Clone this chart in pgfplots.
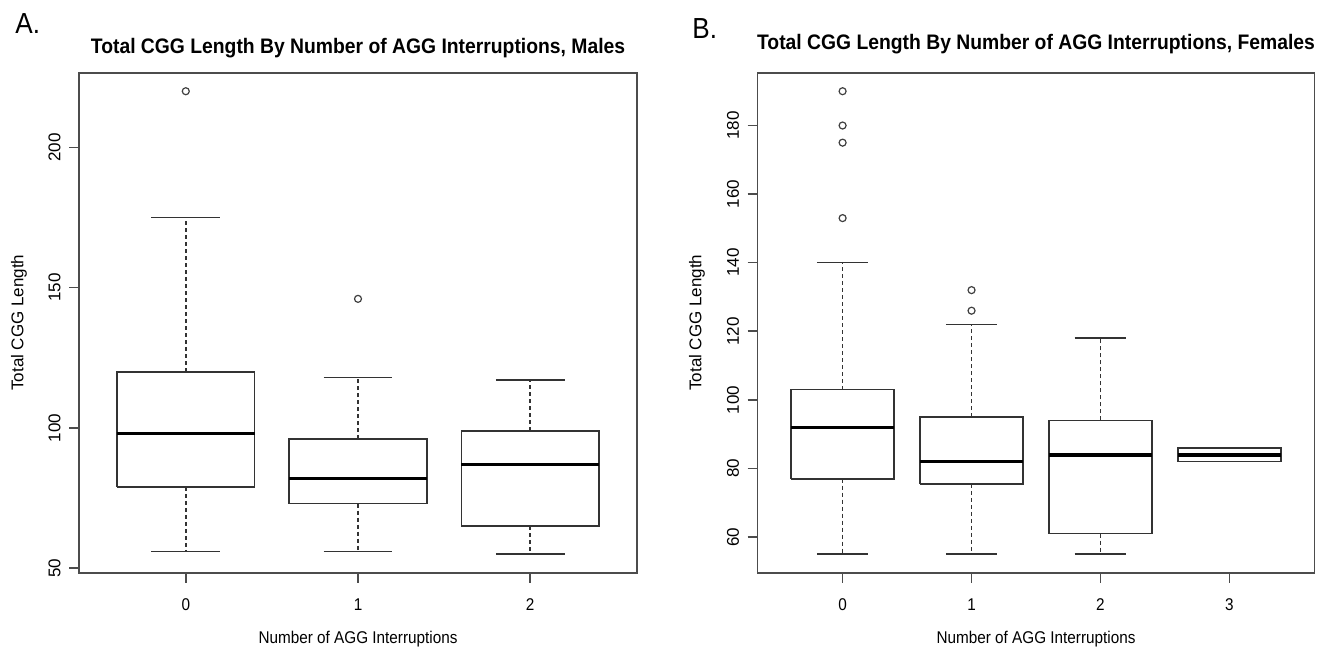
\documentclass[border=0pt]{standalone}
\usepackage{fontspec}
\setmainfont{Liberation Sans}[FakeStretch=0.9]
\newfontfamily\rotfont{Liberation Sans}
\newfontfamily\titlefont{Liberation Sans}[FakeStretch=0.92]
\usepackage{pgfplots}
\pgfplotsset{compat=1.18}
\pgfplotsset{
  myax/.style={
    scale only axis, anchor=south west, height=250pt, clip=false,
    axis line style={draw=black!70, line width=0.9pt},
    tick style={black!70, line width=0.8pt},
    tick align=outside, tick pos=left, major tick length=5pt,
    /pgf/number format/assume math mode=true,
    xticklabel style={font=\fontsize{8.5}{10}\selectfont, anchor=north, inner sep=0pt},
    yticklabel style={font=\rotfont\fontsize{8.5}{10}\selectfont, rotate=90, anchor=south, inner sep=0pt},
    xticklabel shift=8pt, yticklabel shift=4pt,
  },
  tk/.style={draw=black!70, line width=0.8pt, mark=none, forget plot},
  bline/.style={draw=black!80, line width=0.8pt, mark=none},
  wsk/.style={draw=black!80, line width=0.8pt, mark=none, dash pattern=on 2pt off 1.5pt},
  med/.style={draw=black, line width=1.8pt, mark=none},
  outl/.style={only marks, mark=o, mark size=1.75pt, mark options={solid, line width=0.6pt, draw=black!75}},
}
\begin{document}
\begin{tikzpicture}
\path (0,0) rectangle (663.5pt,327.5pt);
% ---------- Panel A ----------
\begin{axis}[myax, at={(39.5pt,41.15pt)}, width=279pt,
  xmin=0.38, xmax=3.62, ymin=48.4, ymax=226.6,
  xtick={1,2,3}, xticklabels={0,1,2},
  ytick={50,100,150,200}]
% tick marks (outside)
\addplot[tk] coordinates {(1,48.4) (1,44.84)};
\addplot[tk] coordinates {(2,48.4) (2,44.84)};
\addplot[tk] coordinates {(3,48.4) (3,44.84)};
\addplot[tk] coordinates {(0.38,50) (0.322,50)};
\addplot[tk] coordinates {(0.38,100) (0.322,100)};
\addplot[tk] coordinates {(0.38,150) (0.322,150)};
\addplot[tk] coordinates {(0.38,200) (0.322,200)};
% group 0
\addplot[wsk] coordinates {(1,120) (1,175)};
\addplot[wsk] coordinates {(1,79) (1,56)};
\addplot[bline] coordinates {(0.6,79) (1.4,79) (1.4,120) (0.6,120) (0.6,79)};
\addplot[med] coordinates {(0.6,98) (1.4,98)};
\addplot[bline] coordinates {(0.8,175) (1.2,175)};
\addplot[bline] coordinates {(0.8,56) (1.2,56)};
\addplot[outl] coordinates {(1,220)};
% group 1
\addplot[wsk] coordinates {(2,96) (2,118)};
\addplot[wsk] coordinates {(2,73) (2,56)};
\addplot[bline] coordinates {(1.6,73) (2.4,73) (2.4,96) (1.6,96) (1.6,73)};
\addplot[med] coordinates {(1.6,82) (2.4,82)};
\addplot[bline] coordinates {(1.8,118) (2.2,118)};
\addplot[bline] coordinates {(1.8,56) (2.2,56)};
\addplot[outl] coordinates {(2,146)};
% group 2
\addplot[wsk] coordinates {(3,99) (3,117)};
\addplot[wsk] coordinates {(3,65) (3,55)};
\addplot[bline] coordinates {(2.6,65) (3.4,65) (3.4,99) (2.6,99) (2.6,65)};
\addplot[med] coordinates {(2.6,87) (3.4,87)};
\addplot[bline] coordinates {(2.8,117) (3.2,117)};
\addplot[bline] coordinates {(2.8,55) (3.2,55)};
\end{axis}
% ---------- Panel B ----------
\begin{axis}[myax, at={(378.75pt,41.15pt)}, width=278.5pt,
  xmin=0.34, xmax=4.66, ymin=49.6, ymax=195.4,
  xtick={1,2,3,4}, xticklabels={0,1,2,3},
  ytick={60,80,100,120,140,160,180}]
% tick marks (outside)
\addplot[tk] coordinates {(1,49.6) (1,46.68)};
\addplot[tk] coordinates {(2,49.6) (2,46.68)};
\addplot[tk] coordinates {(3,49.6) (3,46.68)};
\addplot[tk] coordinates {(4,49.6) (4,46.68)};
\addplot[tk] coordinates {(0.34,60) (0.2624,60)};
\addplot[tk] coordinates {(0.34,80) (0.2624,80)};
\addplot[tk] coordinates {(0.34,100) (0.2624,100)};
\addplot[tk] coordinates {(0.34,120) (0.2624,120)};
\addplot[tk] coordinates {(0.34,140) (0.2624,140)};
\addplot[tk] coordinates {(0.34,160) (0.2624,160)};
\addplot[tk] coordinates {(0.34,180) (0.2624,180)};
% group 0
\addplot[wsk] coordinates {(1,103) (1,140)};
\addplot[wsk] coordinates {(1,77) (1,55)};
\addplot[bline] coordinates {(0.6,77) (1.4,77) (1.4,103) (0.6,103) (0.6,77)};
\addplot[med] coordinates {(0.6,92) (1.4,92)};
\addplot[bline] coordinates {(0.8,140) (1.2,140)};
\addplot[bline] coordinates {(0.8,55) (1.2,55)};
\addplot[outl] coordinates {(1,153) (1,175) (1,180) (1,190)};
% group 1
\addplot[wsk] coordinates {(2,95) (2,122)};
\addplot[wsk] coordinates {(2,75.5) (2,55)};
\addplot[bline] coordinates {(1.6,75.5) (2.4,75.5) (2.4,95) (1.6,95) (1.6,75.5)};
\addplot[med] coordinates {(1.6,82) (2.4,82)};
\addplot[bline] coordinates {(1.8,122) (2.2,122)};
\addplot[bline] coordinates {(1.8,55) (2.2,55)};
\addplot[outl] coordinates {(2,126) (2,132)};
% group 2
\addplot[wsk] coordinates {(3,94) (3,118)};
\addplot[wsk] coordinates {(3,61) (3,55)};
\addplot[bline] coordinates {(2.6,61) (3.4,61) (3.4,94) (2.6,94) (2.6,61)};
\addplot[med] coordinates {(2.6,84) (3.4,84)};
\addplot[bline] coordinates {(2.8,118) (3.2,118)};
\addplot[bline] coordinates {(2.8,55) (3.2,55)};
% group 3
\addplot[bline] coordinates {(3.6,82) (4.4,82) (4.4,86) (3.6,86) (3.6,82)};
\addplot[med] coordinates {(3.6,84) (4.4,84)};
\end{axis}
% ---------- texts ----------
\node[anchor=base west, inner sep=0pt, font=\fontsize{14.5}{16}\selectfont] at (7.5pt,310.5pt) {A.};
\node[anchor=base west, inner sep=0pt, font=\fontsize{14.5}{16}\selectfont] at (346pt,308.5pt) {B.};
\node[anchor=base, inner sep=0pt, font=\titlefont\bfseries\fontsize{10.5}{12}\selectfont] at (179pt,300.5pt)
  {Total CGG Length By Number of AGG Interruptions, Males};
\node[anchor=base, inner sep=0pt, font=\titlefont\bfseries\fontsize{10.5}{12}\selectfont] at (518pt,302.5pt)
  {Total CGG Length By Number of AGG Interruptions, Females};
\node[anchor=base, inner sep=0pt, font=\fontsize{8.5}{10}\selectfont] at (179pt,6pt) {Number of AGG Interruptions};
\node[anchor=base, inner sep=0pt, font=\fontsize{8.5}{10}\selectfont] at (518pt,6pt) {Number of AGG Interruptions};
\node[rotate=90, anchor=center, inner sep=0pt, font=\rotfont\fontsize{8.5}{10}\selectfont] at (9.5pt,166.2pt) {Total CGG Length};
\node[rotate=90, anchor=center, inner sep=0pt, font=\rotfont\fontsize{8.5}{10}\selectfont] at (348.5pt,166.2pt) {Total CGG Length};
\end{tikzpicture}
\end{document}
